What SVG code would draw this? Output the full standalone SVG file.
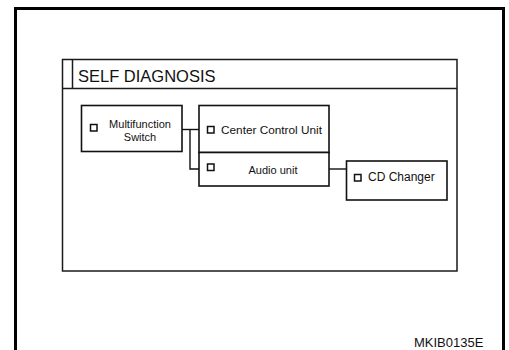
<svg xmlns="http://www.w3.org/2000/svg" width="509" height="350" viewBox="0 0 509 350">
  <style>
    .frame { fill: none; stroke: #000; stroke-width: 3; }
    .panel { fill: #fff; stroke: #1a1a1a; stroke-width: 1.5; }
    .box { fill: #fff; stroke: #111; stroke-width: 1.6; }
    .chk { fill: #fff; stroke: #111; stroke-width: 1.5; }
    .wire { fill: none; stroke: #111; stroke-width: 1.4; }
    .lbl { font-family: "Liberation Sans", Arial, sans-serif; fill: #111; }
  </style>
  <rect width="509" height="350" fill="#fff"/>

  <!-- outer sheet border, open at the bottom -->
  <path class="frame" d="M15.5 352 V8.5 H503.5 V352"/>

  <!-- self diagnosis panel -->
  <g id="panel">
    <rect class="panel" x="62.5" y="59.5" width="394.5" height="211.5"/>
    <line class="panel" x1="62.5" y1="88.5" x2="457" y2="88.5"/>
    <line class="panel" x1="72.5" y1="59.5" x2="72.5" y2="88.5"/>
    <text class="lbl" x="78" y="81.5" font-size="16.5">SELF DIAGNOSIS</text>
  </g>

  <!-- connectors -->
  <g id="connectors">
    <path class="wire" d="M182 129.5 H199"/>
    <path class="wire" d="M190 129.5 V169 H199"/>
    <path class="wire" d="M329 169 H346"/>
  </g>

  <g id="multifunction-switch">
    <rect class="box" x="81.5" y="105.5" width="100.5" height="46"/>
    <rect class="chk" x="90.5" y="124.5" width="6.5" height="6.5"/>
    <text class="lbl" x="140" y="127.5" font-size="11" text-anchor="middle">Multifunction</text>
    <text class="lbl" x="140" y="140.5" font-size="11" text-anchor="middle">Switch</text>
  </g>

  <g id="center-control-unit">
    <rect class="box" x="199" y="105.5" width="130" height="47"/>
    <rect class="chk" x="207.5" y="126.5" width="6.5" height="6.5"/>
    <text class="lbl" x="221" y="134" font-size="11.8">Center Control Unit</text>
  </g>

  <g id="audio-unit">
    <rect class="box" x="199" y="152.5" width="130" height="33.5"/>
    <rect class="chk" x="207.5" y="164" width="6.5" height="6.5"/>
    <text class="lbl" x="273" y="174" font-size="11" text-anchor="middle">Audio unit</text>
  </g>

  <g id="cd-changer">
    <rect class="box" x="346.5" y="161" width="100.5" height="39"/>
    <rect class="chk" x="354.5" y="174.5" width="6.5" height="6.5"/>
    <text class="lbl" x="368" y="181" font-size="12">CD Changer</text>
  </g>

  <text class="lbl" x="414" y="346.5" font-size="13">MKIB0135E</text>
</svg>
